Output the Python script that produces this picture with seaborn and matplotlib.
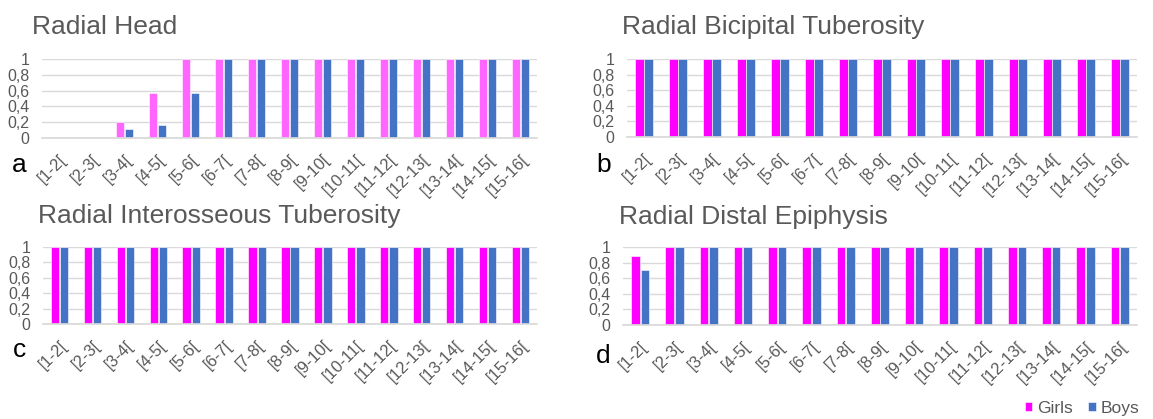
import pandas as pd
import matplotlib.pyplot as plt
import seaborn as sns

# Age ranges (x categories)
age_ranges = ["[1-2[", "[2-3[", "[3-4[", "[4-5[", "[5-6[", "[6-7[", "[7-8[", "[8-9[",
              "[9-10[", "[10-11[", "[11-12[", "[12-13[", "[13-14[", "[14-15[", "[15-16["]

# Proportions per panel
head_girls = [0, 0, 0.2, 0.57, 1, 1, 1, 1, 1, 1, 1, 1, 1, 1, 1]
head_boys = [0, 0, 0.11, 0.17, 0.57, 1, 1, 1, 1, 1, 1, 1, 1, 1, 1]
bicipital_girls = [1] * 15
bicipital_boys = [1] * 15
interosseous_girls = [1] * 15
interosseous_boys = [1] * 15
distal_girls = [0.88, 1, 1, 1, 1, 1, 1, 1, 1, 1, 1, 1, 1, 1, 1]
distal_boys = [0.7, 1, 1, 1, 1, 1, 1, 1, 1, 1, 1, 1, 1, 1, 1]

titles = ["Radial Head", "Radial Bicipital Tuberosity",
          "Radial Interosseous Tuberosity", "Radial Distal Epiphysis"]
letters = ["a", "b", "c", "d"]
y_ticks = [0, 0.2, 0.4, 0.6, 0.8, 1]
y_labels = ["0", "0,2", "0,4", "0,6", "0,8", "1"]

sns.set_theme(style="white")
plt.rcParams["font.family"] = ["Liberation Sans", "DejaVu Sans"]

W, H = 1153, 419
fig = plt.figure(figsize=(W / 100, H / 100), dpi=100)

# pixel boxes: left, right, y of 1, y of 0
boxes = [(42, 537, 59, 138), (627, 1137, 59, 137),
         (43, 537, 247, 324), (623, 1137, 247, 325)]
title_pos = [(32, 34), (622, 34), (38, 223), (619, 224)]
letter_pos = [(12, 172), (596, 172), (13, 357), (596, 363)]

series = [(head_girls, head_boys), (bicipital_girls, bicipital_boys),
          (interosseous_girls, interosseous_boys), (distal_girls, distal_boys)]

gray = "#595959"
handles = labels = None
for i, (girls, boys) in enumerate(series):
    l, r, t, b = boxes[i]
    ax = fig.add_axes([l / W, 1 - b / H, (r - l) / W, (b - t) / H])
    df = pd.DataFrame({
        "age": age_ranges * 2,
        "value": girls + boys,
        "sex": ["Girls"] * 15 + ["Boys"] * 15,
    })
    pink = "#FF66FF" if i == 0 else "#FF00FF"
    sns.barplot(data=df, x="age", y="value", hue="sex", ax=ax,
                palette=[pink, "#4472C4"], saturation=1, width=0.56, gap=0.1,
                edgecolor="white", linewidth=0.4)
    if i == 1:
        handles, labels = ax.get_legend_handles_labels()
    ax.get_legend().remove()
    ax.set_ylim(0, 1)
    ax.set_xlim(-0.5, 14.5)
    ax.set_yticks(y_ticks)
    ax.set_yticklabels(y_labels)
    ax.set_xlabel("")
    ax.set_ylabel("")
    ax.grid(axis="y", color="#D9D9D9", linewidth=1)
    ax.set_axisbelow(True)
    for side in ["top", "left", "right"]:
        ax.spines[side].set_visible(False)
    ax.spines["bottom"].set_color("#D9D9D9")
    ax.tick_params(axis="y", length=0, pad=9, labelsize=11.5, labelcolor=gray)
    ax.tick_params(axis="x", length=0, pad=10, labelsize=12, labelcolor=gray)
    plt.setp(ax.get_xticklabels(), rotation=45, ha="right", rotation_mode="anchor")

    tx, ty = title_pos[i]
    fig.text(tx / W, 1 - ty / H, titles[i], fontsize=19, color=gray, va="baseline")
    lx, ly = letter_pos[i]
    fig.text(lx / W, 1 - ly / H, letters[i], fontsize=19, color="black", va="baseline")

fig.legend(handles, labels, loc="center right", bbox_to_anchor=(1146 / W, 1 - 408 / H),
           ncol=2, frameon=False, fontsize=12.5, handlelength=0.45, handleheight=0.45,
           handletextpad=0.25, columnspacing=0.9, labelcolor=gray, borderaxespad=0)

fig.savefig("out.png", dpi=100)
